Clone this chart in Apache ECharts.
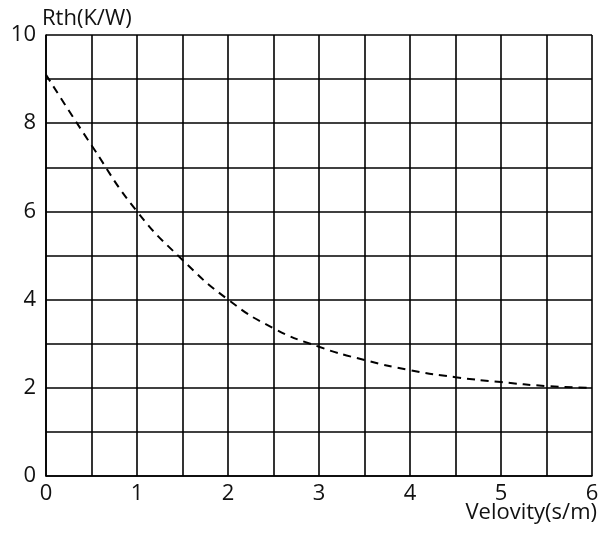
<!DOCTYPE html>
<html><head><meta charset="utf-8">
<script src="https://cdn.jsdelivr.net/npm/echarts@6/dist/echarts.min.js"></script>
<style>html,body{margin:0;padding:0;background:#fff}#c{width:616px;height:534px}</style>
</head><body><div id="c"></div>
<script>
const velocity = [0, 0.5, 1, 1.5, 2, 2.5, 3, 3.5, 4, 4.5, 5, 5.5, 6];
const rth = [9.1, 7.5, 6.0, 4.9, 4.0, 3.35, 2.93, 2.63, 2.4, 2.24, 2.13, 2.04, 2.0];
const xName = 'Velovity(s/m)';
const yName = 'Rth(K/W)';
const FONT = '"Open Sans", sans-serif';
const chart = echarts.init(document.getElementById('c'), null, {renderer: 'canvas'});
const lineStyle = {color: '#000', width: 1.6};
chart.setOption({
  animation: false,
  backgroundColor: '#fff',
  grid: {left: 46, right: 24, top: 35, bottom: 58, containLabel: false},
  xAxis: {
    type: 'value', min: 0, max: 6, interval: 0.5,
    axisLine: {show: true, lineStyle: lineStyle},
    axisTick: {show: false},
    splitLine: {show: true, lineStyle: lineStyle},
    axisLabel: {margin: 7, color: '#111', fontSize: 22, fontFamily: FONT,
      formatter: v => Number.isInteger(v) ? String(v) : ''},
  },
  yAxis: {
    type: 'value', min: 0, max: 10, interval: 1,
    name: yName, nameLocation: 'end', nameGap: 5,
    nameTextStyle: {align: 'left', verticalAlign: 'bottom', color: '#111', fontSize: 22, fontFamily: FONT, padding: [0,0,0,-4]},
    axisLine: {show: true, lineStyle: lineStyle},
    axisTick: {show: false},
    splitLine: {show: true, lineStyle: lineStyle},
    axisLabel: {margin: 10, color: '#111', fontSize: 22, fontFamily: FONT,
      formatter: v => v % 2 === 0 ? String(v) : ''},
  },
  graphic: [{type: 'text', right: 19, top: 502,
    style: {text: xName, fill: '#111', fontSize: 22, fontFamily: FONT}}],
  series: [{
    type: 'line', smooth: true, symbol: 'none',
    data: velocity.map((v, i) => [v, rth[i]]),
    lineStyle: {color: '#000', width: 2, type: [8, 6]},
  }]
});
</script></body></html>
